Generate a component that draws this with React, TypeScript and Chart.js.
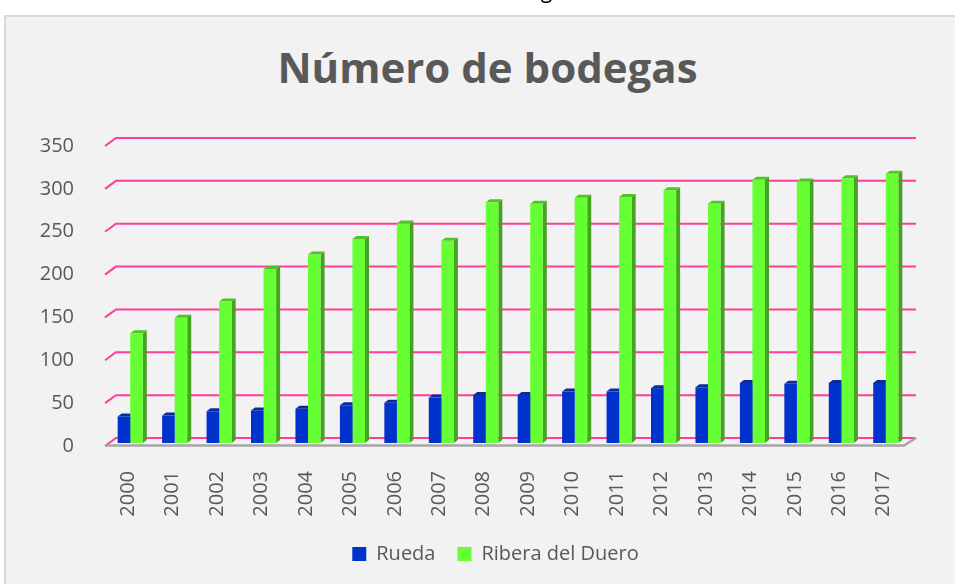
import React, { useEffect, useRef } from "react";
import { Chart, registerables } from "chart.js";

Chart.register(...registerables);

const years = ["2000", "2001", "2002", "2003", "2004", "2005", "2006", "2007", "2008", "2009", "2010", "2011", "2012", "2013", "2014", "2015", "2016", "2017"];
const rueda = [31, 32, 37, 38, 40, 44, 47, 53, 56, 56, 60, 60, 64, 65, 70, 69, 70, 70];
const ribera = [128, 146, 165, 203, 220, 238, 256, 236, 281, 279, 286, 287, 295, 279, 307, 305, 309, 314];
const yTicks = [0, 50, 100, 150, 200, 250, 300, 350];
const seriesNames = ["Rueda", "Ribera del Duero"];
const titleText = "Número de bodegas";
const captionText = "Gráfico 6. Evolución del número de bodegas en cada D.O. 2000-2017";

const frontColors = ["#0033cc", "#66ff33"];
const faceColors = [
  ["#0a2a9e", "#062390"],
  ["#53c22a", "#46a322"],
];

const depthPlugin = {
  id: "depth3d",
  beforeDatasetsDraw(chart: any) {
    const { ctx, chartArea } = chart;
    const y = chart.scales.y;
    ctx.save();
    ctx.strokeStyle = "#ff3d9a";
    ctx.lineWidth = 2;
    for (const v of yTicks) {
      const py = y.getPixelForValue(v);
      ctx.beginPath();
      ctx.moveTo(chartArea.left - 3, py + 3);
      ctx.lineTo(chartArea.left + 8, py - 5);
      ctx.lineTo(chartArea.right + 8, py - 5);
      ctx.stroke();
    }
    const p0 = y.getPixelForValue(0);
    ctx.strokeStyle = "#a6a6a6";
    ctx.lineWidth = 2.5;
    ctx.beginPath();
    ctx.moveTo(chartArea.left - 3, p0 + 2.5);
    ctx.lineTo(chartArea.right - 4, p0 + 2.5);
    ctx.lineTo(chartArea.right + 8, p0 - 5);
    ctx.stroke();
    chart.data.datasets.forEach((_ds: any, i: number) => {
      const meta = chart.getDatasetMeta(i);
      const [topC, sideC] = faceColors[i];
      meta.data.forEach((bar: any) => {
        const { x, y: by, base, width } = bar.getProps(["x", "y", "base", "width"], true);
        const l = x - width / 2;
        const r = x + width / 2;
        const dx = 4;
        const dy = 3;
        ctx.fillStyle = sideC;
        ctx.beginPath();
        ctx.moveTo(r, by);
        ctx.lineTo(r + dx, by - dy);
        ctx.lineTo(r + dx, base - dy);
        ctx.lineTo(r, base);
        ctx.closePath();
        ctx.fill();
        ctx.fillStyle = topC;
        ctx.beginPath();
        ctx.moveTo(l, by);
        ctx.lineTo(l + dx, by - dy);
        ctx.lineTo(r + dx, by - dy);
        ctx.lineTo(r, by);
        ctx.closePath();
        ctx.fill();
      });
    });
    ctx.restore();
  },
};

export default function App() {
  const ref = useRef<HTMLCanvasElement | null>(null);

  useEffect(() => {
    if (!ref.current) return;
    const chart = new Chart(ref.current, {
      type: "bar",
      data: {
        labels: years,
        datasets: [
          {
            label: seriesNames[0],
            data: rueda,
            backgroundColor: frontColors[0],
            borderWidth: 0,
            barPercentage: 1,
            categoryPercentage: 0.565,
          },
          {
            label: seriesNames[1],
            data: ribera,
            backgroundColor: frontColors[1],
            borderWidth: 0,
            barPercentage: 1,
            categoryPercentage: 0.565,
          },
        ],
      },
      options: {
        responsive: false,
        animation: false,
        events: [],
        layout: { padding: { left: 40, right: 4, top: 143, bottom: 10 } },
        scales: {
          x: {
            offset: true,
            grid: { display: false },
            border: { display: false },
            ticks: {
              minRotation: 90,
              maxRotation: 90,
              padding: 20,
              labelOffset: -2,
              color: "#595959",
              font: { family: "Open Sans", size: 20 },
            },
            afterFit: (s: any) => {
              s.height = 79;
            },
          },
          y: {
            min: 0,
            max: 350,
            grid: { display: false },
            border: { display: false },
            ticks: {
              stepSize: 50,
              padding: 26,
              labelOffset: 3,
              color: "#595959",
              font: { family: "Open Sans", size: 20 },
            },
            afterFit: (s: any) => {
              s.width = 68;
            },
          },
          yRight: {
            position: "right",
            display: true,
            min: 0,
            max: 350,
            grid: { display: false },
            border: { display: false },
            ticks: { display: false },
            afterFit: (s: any) => {
              s.width = 43;
            },
          },
        },
        plugins: {
          title: { display: false },
          tooltip: { enabled: false },
          legend: {
            position: "bottom",
            labels: {
              boxWidth: 14,
              boxHeight: 14,
              padding: 22,
              color: "#595959",
              font: { family: "Open Sans", size: 20 },
            },
          },
        },
      },
      plugins: [depthPlugin],
    } as any);
    return () => chart.destroy();
  }, []);

  return (
    <div style={{ position: "fixed", left: 0, top: 0, width: 955, height: 584, overflow: "hidden", background: "#ffffff" }}>
      <div
        style={{
          position: "absolute",
          left: 0,
          width: 955,
          top: -21,
          textAlign: "center",
          fontFamily: "'Open Sans'",
          fontSize: 21,
          lineHeight: "22px",
          color: "#000",
          whiteSpace: "nowrap",
        }}
      >
        {captionText}
      </div>
      <div
        style={{
          position: "absolute",
          left: 4,
          top: 15,
          width: 960,
          height: 580,
          background: "#f2f2f2",
          border: "2px solid #d9d9d9",
        }}
      />
      <div
        style={{
          position: "absolute",
          left: 0,
          width: 975,
          top: 46,
          textAlign: "center",
          fontFamily: "'Open Sans'",
          fontWeight: 700,
          fontSize: 42,
          lineHeight: "42px",
          color: "#595959",
          whiteSpace: "nowrap",
        }}
      >
        {titleText}
      </div>
      <canvas ref={ref} width={955} height={584} style={{ position: "absolute", left: 0, top: 0, width: 955, height: 584 }} />
    </div>
  );
}
